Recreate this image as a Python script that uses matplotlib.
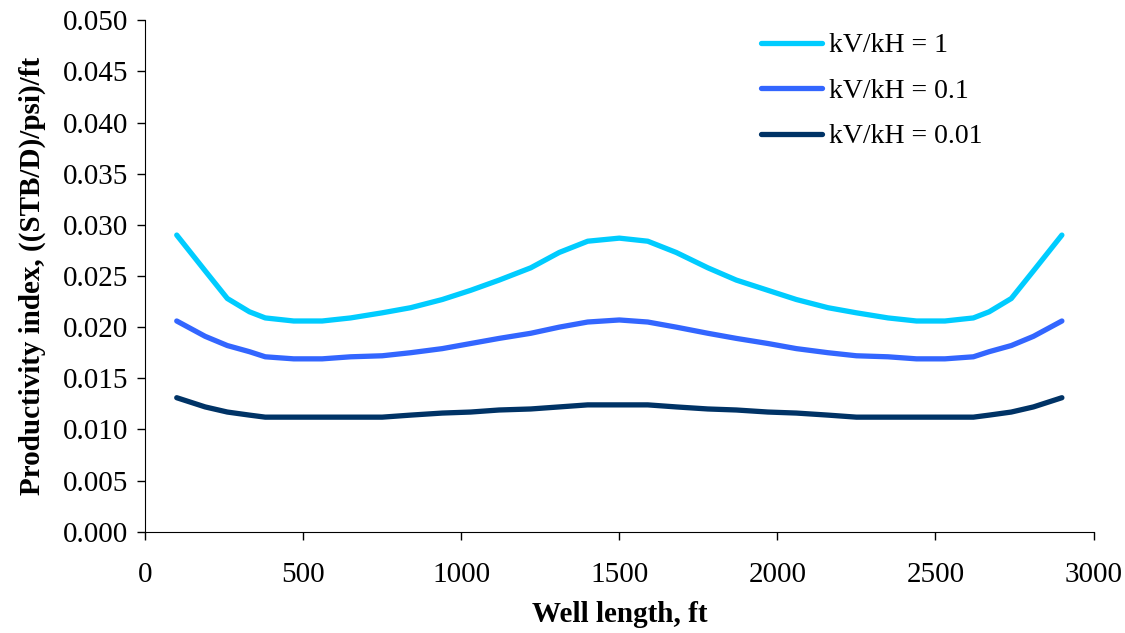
import matplotlib.pyplot as plt
import numpy as np

plt.rcParams['font.family'] = ['Liberation Serif', 'DejaVu Serif']

# well length, ft (symmetric about 1500)
well_length = [100, 190, 260, 330, 380, 470, 560, 650, 750, 840, 940, 1030, 1120, 1220, 1310, 1400,
               1500, 1590, 1680, 1780, 1870, 1970, 2060, 2160, 2250, 2350, 2440, 2530, 2620, 2670,
               2740, 2810, 2900]

half_1 = [0.0290, 0.0255, 0.0228, 0.0215, 0.0209, 0.0206, 0.0206, 0.0209, 0.0214, 0.0219, 0.0227,
          0.0236, 0.0246, 0.0258, 0.0273, 0.0284, 0.0287]
half_01 = [0.0206, 0.0191, 0.0182, 0.0176, 0.0171, 0.0169, 0.0169, 0.0171, 0.0172, 0.0175, 0.0179,
           0.0184, 0.0189, 0.0194, 0.0200, 0.0205, 0.0207]
half_001 = [0.0131, 0.0122, 0.0117, 0.0114, 0.0112, 0.0112, 0.0112, 0.0112, 0.0112, 0.0114, 0.0116,
            0.0117, 0.0119, 0.0120, 0.0122, 0.0124, 0.0124]

pi_1 = half_1 + half_1[-2::-1]
pi_01 = half_01 + half_01[-2::-1]
pi_001 = half_001 + half_001[-2::-1]

labels = ["kV/kH = 1", "kV/kH = 0.1", "kV/kH = 0.01"]
colors = ["#00CCFF", "#3366FF", "#003366"]

fig = plt.figure(figsize=(11.25, 6.33), dpi=100)
ax = fig.add_axes([0.129, 0.16, 0.843, 0.808])

for y, lab, c in zip([pi_1, pi_01, pi_001], labels, colors):
    ax.plot(well_length, y, color=c, lw=3.8, label=lab, solid_capstyle='round')

ax.set_xlim(0, 3000)
ax.set_ylim(0, 0.05)
ax.set_xticks(np.arange(0, 3001, 500))
ax.set_yticks(np.arange(0, 0.0501, 0.005))
ax.yaxis.set_major_formatter(plt.FormatStrFormatter('%.3f'))
ax.tick_params(direction='out', length=6, width=1, labelsize=21, pad=6)
ax.tick_params(axis='x', pad=16)
for s in ['top', 'right']:
    ax.spines[s].set_visible(False)

ax.set_xlabel("Well length, ft", fontsize=21, fontweight='bold', labelpad=9)
ax.set_ylabel("Productivity index, ((STB/D)/psi)/ft", fontsize=21, fontweight='bold', labelpad=12)

ax.legend(loc='upper left', bbox_to_anchor=(0.649, 0.975), frameon=False, fontsize=20,
          handlelength=2.2, labelspacing=0.72, handletextpad=0.25, borderpad=0, borderaxespad=0)

fig.savefig("out.png")
